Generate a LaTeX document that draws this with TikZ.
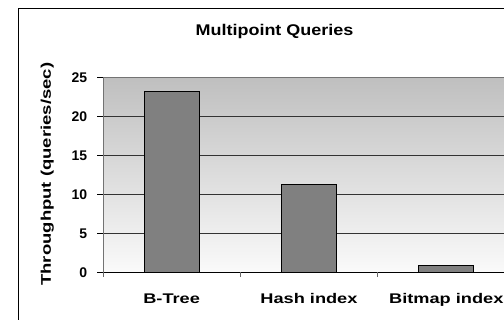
\documentclass[tikz,border=0pt]{standalone}
\usepackage{fontspec}
\setmainfont{Liberation Sans}
\usetikzlibrary{positioning}

% wide bold lettering of the chart
\newcommand{\widetext}[2]{\scalebox{#1}[1]{#2}}

\begin{document}
\begin{tikzpicture}[
    x=1pt, y=1pt,
    bar/.style={draw=black, line width=1pt, fill=black!50},
    gridline/.style={draw=black!80, line width=0.9pt},
    axisline/.style={draw=black!55, line width=0.9pt},
    tick/.style={draw=black, line width=0.8pt},
    lbl/.style={font=\fontsize{14}{16}\selectfont\bfseries, inner sep=0pt}
]
    \useasboundingbox (0,0) rectangle (504,320);
    \clip (0,0) rectangle (504,320);

    % --- Frame ---
    \draw[line width=1pt] (18.3,311.7) rectangle (530,-10);

    % --- Title and axis label ---
    \node[lbl, font=\fontsize{15.5}{18}\selectfont\bfseries, anchor=base] (title)
        at (274.5,284.3) {\widetext{1.16}{Multipoint Queries}};
    \node[lbl, rotate=90] (ylabel) at (47.2,145.8)
        {\widetext{1.32}{Throughput (queries/sec)}};

    % --- Plot area ---
    \begin{scope}[shift={(103,47.7)}, x=137.3pt, y=7.8pt]
        \shade[top color=black!25, bottom color=black!2] (0,0) rectangle (3,25);
        \foreach \v in {5,10,15,20}
            \draw[gridline] (0,\v) -- (3,\v);
        \draw[axisline] (0,25) -- (3,25);
        \draw[axisline] (0,0) -- (0,25);

        % value axis
        \foreach \v in {0,5,10,15,20,25} {
            \draw[tick] (0,\v) -- ++(-6.3pt,0);
            \node[lbl, anchor=east] (tick\v) at ([xshift=-15.7pt]0,\v) {\v};
        }

        % category axis
        \draw[tick] (0,0) -- (3,0);
        \foreach \i in {0,1,2,3}
            \draw[tick, black!60] (\i,0) -- ++(0,-4.5pt);

        % --- Bars ---
        \foreach \i/\val/\name/\txt in {0/23.2/btree/B-Tree, 1/11.2/hash/Hash index, 2/0.85/bitmap/Bitmap index} {
            \draw[bar] (\i+0.3,0) rectangle (\i+0.7,\val);
            \node[lbl, anchor=base] (\name) at ([yshift=-31pt]\i+0.5,0)
                {\widetext{1.3}{\txt}};
        }
    \end{scope}

\end{tikzpicture}
\end{document}
